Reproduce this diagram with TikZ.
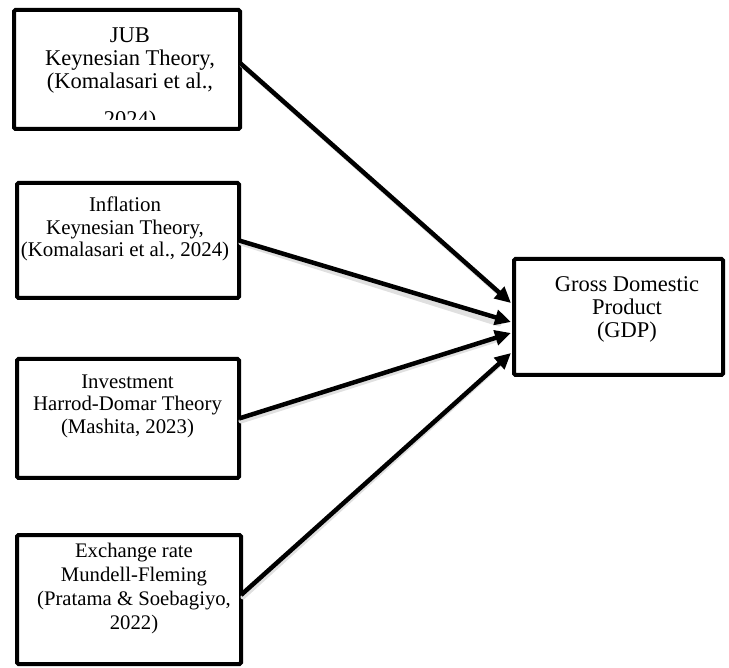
\documentclass[tikz,border=0pt]{standalone}
\usepackage{fontspec}
\setmainfont{Liberation Serif}
\usetikzlibrary{arrows.meta}
\begin{document}
\begin{tikzpicture}[x=1pt,y=-1pt,
  box/.style={draw, line width=4pt, rounded corners=1.5pt, outer sep=0pt, inner sep=0pt},
  txt/.style={align=center, inner sep=0pt},
  arr/.style={line width=4.5pt, -{Triangle[length=16pt,width=15pt]}},
  shadowline/.style={line width=5pt, black!12, line cap=round}]
\useasboundingbox (0,0) rectangle (729,668);

% texts
\begin{scope}
  \clip (14,10) rectangle (240,120);
  \node[txt, font=\fontsize{22.5}{23}\selectfont] (t1) at (130,79.6) {JUB\\Keynesian Theory,\\(Komalasari et al.,\\[15pt]2024)};
\end{scope}
\node[txt, font=\fontsize{20.9}{22.5}\selectfont] (t2) at (125,229.2) {Inflation\\Keynesian Theory,\\(Komalasari et al., 2024)};
\node[txt, font=\fontsize{20.8}{22.5}\selectfont] (t3) at (127.5,406) {Investment\\Harrod-Domar Theory\\(Mashita, 2023)};
\node[txt, font=\fontsize{20.7}{24}\selectfont] (t4) at (134,588.8) {Exchange rate\\Mundell-Fleming\\(Pratama \& Soebagiyo,\\2022)};
\node[txt, font=\fontsize{22.5}{23}\selectfont] (t5) at (627,309.4) {Gross Domestic\\Product\\(GDP)};

% boxes
\node[box, minimum width=226, minimum height=119] (b1) at (127,69.5) {};
\node[box, minimum width=222, minimum height=115] (b2) at (128,240.5) {};
\node[box, minimum width=222, minimum height=119] (b3) at (128,418.5) {};
\node[box, minimum width=224, minimum height=129] (b4) at (129,599.5) {};
\node[box, minimum width=209, minimum height=116] (gdp) at (618.5,317) {};

% arrow end points on the GDP box
\coordinate (e1) at (511,303);
\coordinate (e2) at (511,322);
\coordinate (e3) at (511,333);
\coordinate (e4) at (511,353);

% shadows
\draw[shadowline] ([shift={(2,-4.5)}]b1.east) -- ([shift={(-10,-8)}]e1);
\draw[shadowline] ([shift={(2,2.5)}]b2.east) -- ([shift={(-12,2)}]e2);
\draw[shadowline] ([shift={(2,2.5)}]b3.east) -- ([shift={(-12,6)}]e3);
\draw[shadowline] ([shift={(2,-2.5)}]b4.east) -- ([shift={(-10,10)}]e4);

% arrows
\draw[arr] ([yshift=6.5pt]b1.east) -- (e1);
\draw[arr] (b2.east) -- (e2);
\draw[arr] (b3.east) -- (e3);
\draw[arr] ([yshift=4.5pt]b4.east) -- (e4);
\end{tikzpicture}
\end{document}
